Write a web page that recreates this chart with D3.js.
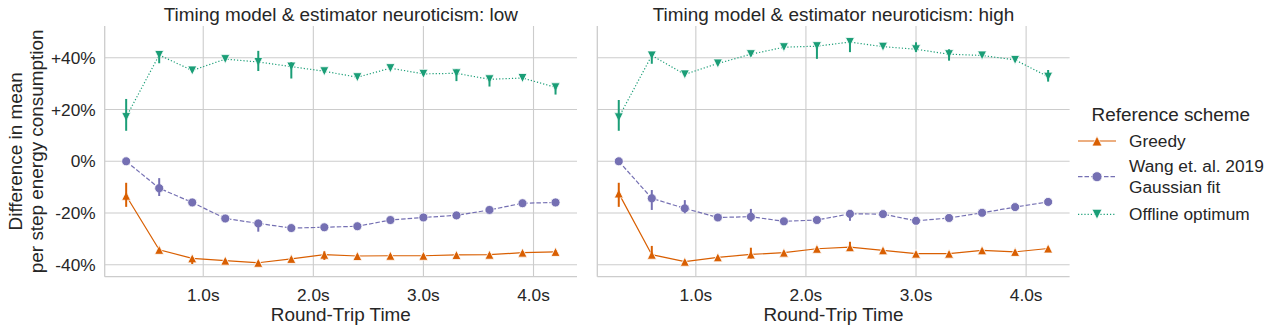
<!DOCTYPE html>
<html>
<head>
<meta charset="utf-8">
<script src="https://cdn.jsdelivr.net/npm/d3@7"></script>
<style>
  body { margin: 0; background: #fff; }
  svg text { font-family: "Liberation Sans", Arial, sans-serif; fill: #262626; }
</style>
</head>
<body>
<div id="chart"></div>
<script>
// round-trip time (s) on the x axis
var rtt = [0.3, 0.6, 0.9, 1.2, 1.5, 1.8, 2.1, 2.4, 2.7, 3.0, 3.3, 3.6, 3.9, 4.2];
var xTicks = [1, 2, 3, 4];
var yTicks = [-40, -20, 0, 20, 40];
var panelTitles = ["Timing model & estimator neuroticism: low", "Timing model & estimator neuroticism: high"];
var schemes = ["Greedy", "Wang et. al. 2019\nGaussian fit", "Offline optimum"];

// neuroticism: low  (means, and CI distance below / above the mean)
var lowGreedy    = [-13.3, -34.2, -37.5, -38.4, -39.2, -37.7, -36.1, -36.6, -36.5, -36.5, -36.2, -36.1, -35.3, -35.0];
var lowGreedyLo  = [4.3, 0.5, 2.2, 0.5, 0.5, 0.5, 2.0, 0.5, 0.5, 0.5, 0.5, 0.5, 0.5, 0.5];
var lowGreedyHi  = [5.0, 0.5, 0.5, 0.5, 0.5, 0.5, 1.3, 0.5, 0.5, 0.5, 0.5, 0.5, 0.5, 0.5];
var lowWang      = [0.0, -10.4, -15.9, -22.1, -24.0, -25.8, -25.5, -25.1, -22.7, -21.7, -20.9, -18.8, -16.2, -15.9];
var lowWangLo    = [0.3, 3.0, 0.5, 0.5, 3.2, 0.5, 0.5, 0.5, 0.5, 0.5, 0.5, 0.5, 0.5, 0.5];
var lowWangHi    = [0.3, 3.9, 0.5, 0.5, 1.3, 0.5, 0.5, 0.5, 0.5, 0.5, 0.5, 0.5, 0.5, 0.5];
var lowOffline   = [17.1, 41.1, 35.1, 39.5, 38.4, 36.6, 34.8, 32.5, 36.0, 33.8, 34.0, 31.7, 32.2, 28.6];
var lowOfflineLo = [5.3, 3.2, 0.5, 0.5, 3.5, 4.6, 0.5, 0.5, 0.5, 0.5, 3.0, 2.8, 0.5, 2.8];
var lowOfflineHi = [7.0, 1.4, 0.5, 0.5, 4.3, 1.7, 0.5, 0.5, 0.5, 0.5, 1.5, 0.8, 0.5, 0.8];

// neuroticism: high
var highGreedy    = [-12.4, -36.1, -38.8, -37.1, -36.0, -35.3, -33.8, -33.2, -34.4, -35.7, -35.7, -34.4, -35.0, -33.7];
var highGreedyLo  = [5.2, 0.8, 0.5, 0.5, 1.5, 0.5, 0.5, 1.2, 0.5, 0.5, 0.5, 0.5, 0.5, 0.5];
var highGreedyHi  = [4.1, 3.4, 0.5, 0.5, 2.6, 0.5, 0.5, 2.1, 0.5, 0.5, 0.5, 0.5, 0.5, 0.5];
var highWang      = [0.0, -14.3, -18.2, -21.7, -21.4, -23.2, -22.7, -20.3, -20.4, -23.0, -21.9, -19.9, -17.7, -15.7];
var highWangLo    = [0.3, 4.5, 1.9, 0.5, 1.9, 0.5, 0.5, 2.7, 0.5, 0.5, 0.5, 0.5, 0.5, 0.5];
var highWangHi    = [0.3, 3.2, 3.2, 0.5, 3.0, 0.5, 0.5, 0.8, 0.5, 0.5, 0.5, 0.5, 0.5, 0.5];
var highOffline   = [17.0, 40.9, 33.6, 37.8, 41.4, 44.1, 44.5, 46.1, 44.3, 43.3, 41.4, 40.9, 39.2, 32.7];
var highOfflineLo = [5.2, 3.2, 0.5, 0.5, 0.5, 0.5, 4.9, 3.9, 0.5, 1.0, 2.5, 0.5, 0.5, 1.9];
var highOfflineHi = [6.7, 0.8, 0.5, 0.5, 0.5, 0.5, 1.2, 1.4, 0.5, 2.7, 1.9, 0.5, 0.5, 2.6];

function init(){
    var w = 1281;
    var h = 332;

    var colors = ["#d95f02", "#7570b3", "#1b9e77"];
    var dashes = [null, "4.5,2", "1.2,2"];
    var markers = ["up", "circle", "down"];
    var ms = 9;

    var panels = [
        [[lowGreedy, lowGreedyLo, lowGreedyHi], [lowWang, lowWangLo, lowWangHi], [lowOffline, lowOfflineLo, lowOfflineHi]],
        [[highGreedy, highGreedyLo, highGreedyHi], [highWang, highWangLo, highWangHi], [highOffline, highOfflineLo, highOfflineHi]]
    ];
    var panelLeft = [104.7, 597.3];
    var panelW = 472.3;
    var top = 26, bottom = 276.7;

    var y = d3.scaleLinear().domain([-44.6, 52.3]).range([bottom, top]);

    function markerPath(type, s){
        var r = s / 2;
        if (type == "up") return "M0," + (-r) + "L" + r + "," + r + "L" + (-r) + "," + r + "Z";
        if (type == "down") return "M0," + r + "L" + r + "," + (-r) + "L" + (-r) + "," + (-r) + "Z";
        return d3.symbol().type(d3.symbolCircle).size(Math.PI * r * r)();
    }

    var svg = d3.select("#chart")
                .append("svg")
                .attr("width", w)
                .attr("height", h);

    panels.forEach(function(series, p){
        var x = d3.scaleLinear().domain([0.105, 4.395]).range([0, panelW]);
        var g = svg.append("g").attr("transform", "translate(" + panelLeft[p] + ",0)");

        // grid
        g.selectAll("line.gy").data(yTicks).enter().append("line")
            .attr("x1", 0).attr("x2", panelW)
            .attr("y1", function(d){ return y(d); }).attr("y2", function(d){ return y(d); })
            .attr("stroke", "#cccccc").attr("stroke-width", 1.1);
        g.selectAll("line.gx").data(xTicks).enter().append("line")
            .attr("x1", function(d){ return x(d); }).attr("x2", function(d){ return x(d); })
            .attr("y1", top).attr("y2", bottom)
            .attr("stroke", "#cccccc").attr("stroke-width", 1.1);

        // spines
        g.append("line").attr("x1", 0).attr("x2", 0).attr("y1", top).attr("y2", bottom)
            .attr("stroke", "#cccccc").attr("stroke-width", 1.3);
        g.append("line").attr("x1", 0).attr("x2", panelW).attr("y1", bottom).attr("y2", bottom)
            .attr("stroke", "#cccccc").attr("stroke-width", 1.3);

        // x tick labels
        g.selectAll("text.xt").data(xTicks).enter().append("text")
            .attr("x", function(d){ return x(d); })
            .attr("y", 301)
            .attr("text-anchor", "middle")
            .style("font-size", "17.3px")
            .text(function(d){ return d.toFixed(1) + "s"; });

        g.append("text").attr("x", panelW / 2).attr("y", 321)
            .attr("text-anchor", "middle").style("font-size", "18.9px")
            .text("Round-Trip Time");

        g.append("text").attr("x", panelW / 2).attr("y", 21)
            .attr("text-anchor", "middle").style("font-size", "18.9px")
            .text(panelTitles[p]);

        if (p == 0) {
            g.selectAll("text.yt").data(yTicks).enter().append("text")
                .attr("x", -9)
                .attr("y", function(d){ return y(d); })
                .attr("dy", "0.35em")
                .attr("text-anchor", "end")
                .style("font-size", "17.3px")
                .text(function(d){ return (d > 0 ? "+" : "") + d + "%"; });
        }

        series.forEach(function(s, k){
            var vals = s[0], lo = s[1], hi = s[2];
            var pts = rtt.map(function(t, i){ return {t: t, v: vals[i], lo: vals[i] - lo[i], hi: vals[i] + hi[i]}; });

            var line = d3.line().x(function(d){ return x(d.t); }).y(function(d){ return y(d.v); });
            g.append("path").datum(pts)
                .attr("d", line)
                .attr("fill", "none")
                .attr("stroke", colors[k])
                .attr("stroke-width", 1.2)
                .attr("stroke-dasharray", dashes[k]);

            g.selectAll("path.m" + k).data(pts).enter().append("path")
                .attr("transform", function(d){ return "translate(" + x(d.t) + "," + y(d.v) + ")"; })
                .attr("d", markerPath(markers[k], ms))
                .attr("fill", colors[k])
                .attr("stroke", "#fff")
                .attr("stroke-width", 0.8);

            g.selectAll("line.e" + k).data(pts).enter().append("line")
                .attr("x1", function(d){ return x(d.t); }).attr("x2", function(d){ return x(d.t); })
                .attr("y1", function(d){ return y(d.lo); }).attr("y2", function(d){ return y(d.hi); })
                .attr("stroke", colors[k])
                .attr("stroke-width", 2);
        });
    });

    // y axis label, two lines
    var ylab = svg.append("text")
        .attr("transform", "translate(27," + ((top + bottom) / 2) + ") rotate(-90)")
        .attr("text-anchor", "middle")
        .style("font-size", "18.9px");
    ylab.append("tspan").attr("x", 0).attr("dy", "-0.25em").text("Difference in mean");
    ylab.append("tspan").attr("x", 0).attr("dy", "1.12em").text("per step energy consumption");

    // legend
    var leg = svg.append("g");
    leg.append("text").attr("x", 1091.5).attr("y", 121).style("font-size", "18.9px").text("Reference scheme");
    var rowY = [141, 176.7, 214.3];
    schemes.forEach(function(name, k){
        var row = leg.append("g").attr("transform", "translate(0," + rowY[k] + ")");
        row.append("line").attr("x1", 1078).attr("x2", 1116).attr("y1", 0).attr("y2", 0)
            .attr("stroke", colors[k]).attr("stroke-width", 1.2).attr("stroke-dasharray", dashes[k]);
        row.append("path").attr("transform", "translate(1097,0)")
            .attr("d", markerPath(markers[k], ms + 1))
            .attr("fill", colors[k]).attr("stroke", "#fff").attr("stroke-width", 0.8);
        var lines = name.split("\n");
        var t = row.append("text").attr("x", 1129).style("font-size", "17.3px");
        lines.forEach(function(l, i){
            t.append("tspan").attr("x", 1129)
                .attr("dy", i == 0 ? (0.35 - (lines.length - 1) * 0.6) + "em" : "1.2em")
                .text(l);
        });
    });
}
window.onload = init;
</script>
</body>
</html>
